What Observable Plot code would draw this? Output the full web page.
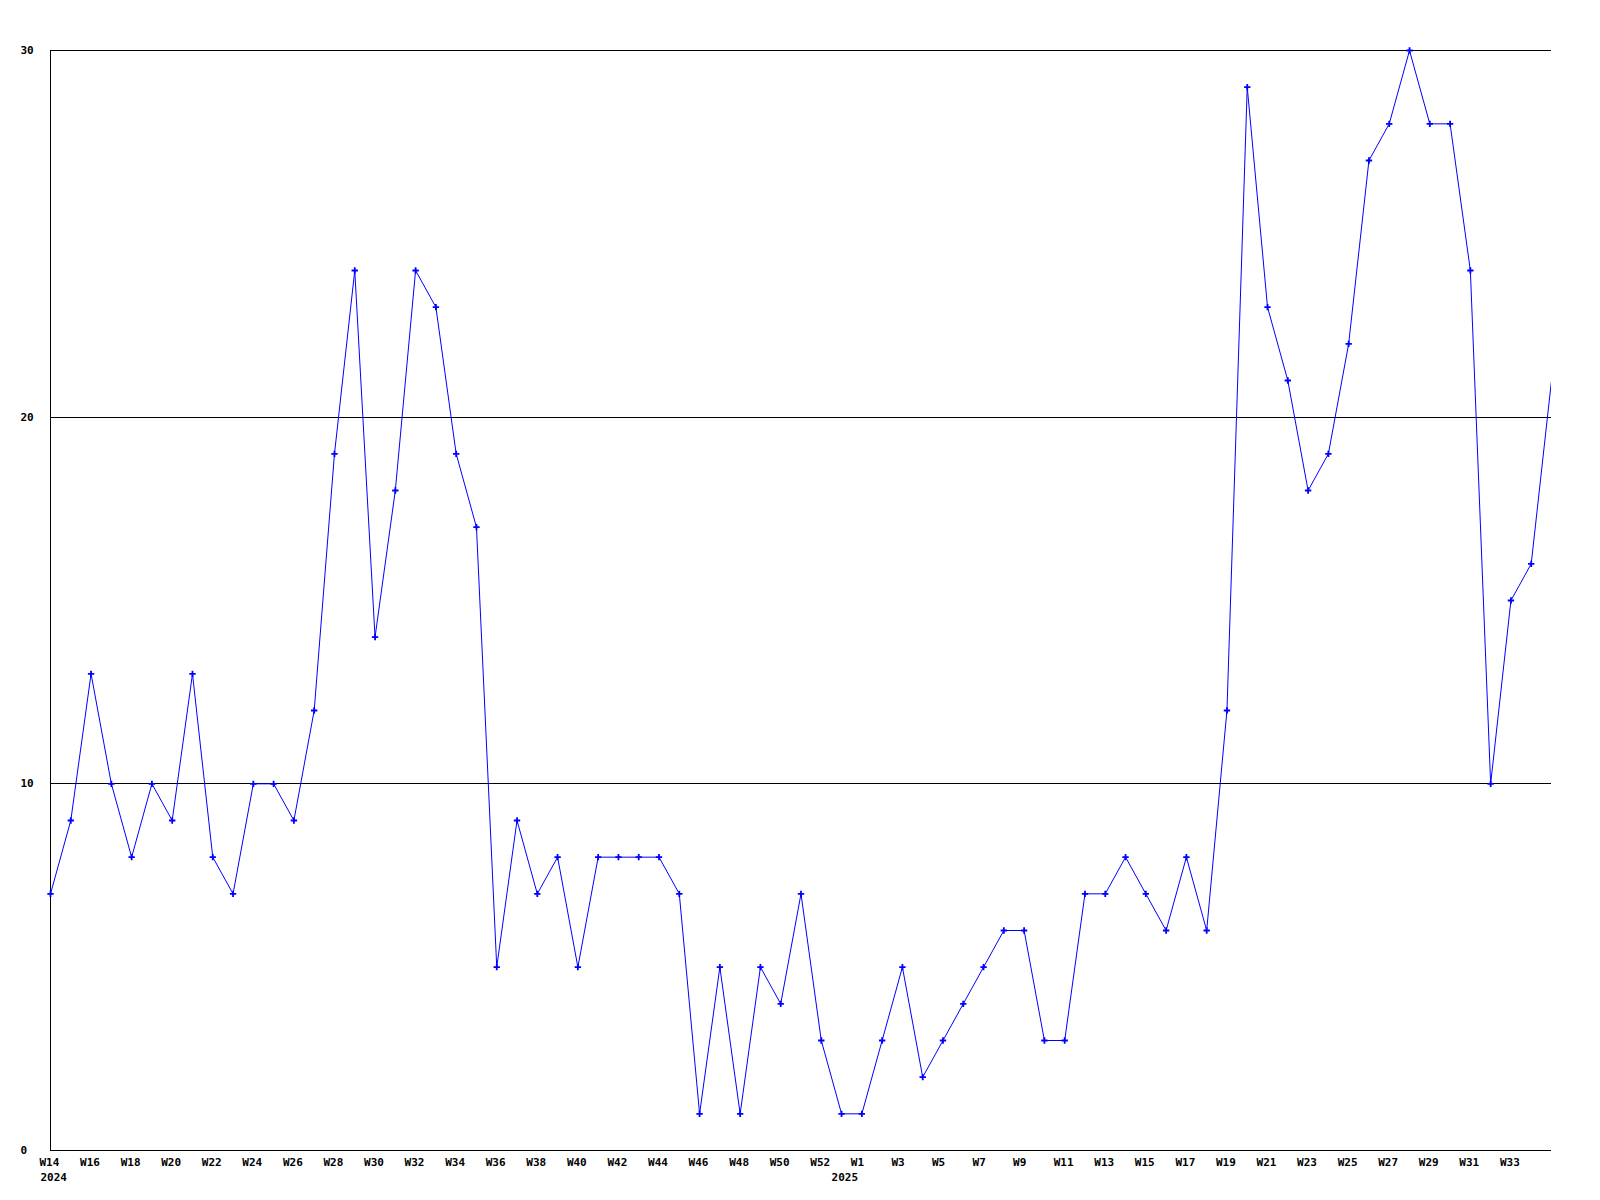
<!DOCTYPE html>
<html>
<head>
<meta charset="utf-8">
<script src="https://cdn.jsdelivr.net/npm/d3@7"></script>
<script src="https://cdn.jsdelivr.net/npm/@observablehq/plot@0.6"></script>
<style>
  html, body { margin: 0; padding: 0; background: #ffffff; }
  #chart svg { display: block; }
</style>
</head>
<body>
<div id="chart"></div>
<script>
// Week sequence (2024 W14 … 2024 W53, 2025 W1 … 2025 W35)
const weeks = [
  "W14","W15","W16","W17","W18","W19","W20","W21","W22","W23","W24","W25","W26","W27",
  "W28","W29","W30","W31","W32","W33","W34","W35","W36","W37","W38","W39","W40","W41",
  "W42","W43","W44","W45","W46","W47","W48","W49","W50","W51","W52","W53",
  "W1","W2","W3","W4","W5","W6","W7","W8","W9","W10","W11","W12","W13","W14","W15",
  "W16","W17","W18","W19","W20","W21","W22","W23","W24","W25","W26","W27","W28","W29",
  "W30","W31","W32","W33","W34","W35"
];
const values = [
  7, 9, 13, 10, 8, 10, 9, 13, 8, 7, 10, 10, 9, 12,
  19, 24, 14, 18, 24, 23, 19, 17, 5, 9, 7, 8, 5, 8,
  8, 8, 8, 7, 1, 5, 1, 5, 4, 7, 3, 1,
  1, 3, 5, 2, 3, 4, 5, 6, 6, 3, 3, 7, 7, 8, 7,
  6, 8, 6, 12, 29, 23, 21, 18, 19, 22, 27, 28, 30, 28,
  28, 24, 10, 15, 16, 21
];
// Tick labels (every second week) and year labels
const xTickLabels = ["W14","W16","W18","W20","W22","W24","W26","W28","W30","W32","W34","W36","W38",
  "W40","W42","W44","W46","W48","W50","W52","W1","W3","W5","W7","W9","W11","W13","W15","W17",
  "W19","W21","W23","W25","W27","W29","W31","W33"];
const xTickIdx = [0,2,4,6,8,10,12,14,16,18,20,22,24,26,28,30,32,34,36,38,40,42,44,46,48,50,52,54,56,58,60,62,64,66,68,70,72];
const yearLabels = ["2024", "2025"];
const yearIdx = [0, 39];
const yTicks = [0, 10, 20, 30];
const yGrid = [10, 20, 30];

const data = values.map((v, i) => ({i, v, week: weeks[i]}));
const xTicks = xTickLabels.map((label, k) => ({i: xTickIdx[k], label}));
const yearsData = yearLabels.map((label, k) => ({i: yearIdx[k], label}));
const lastIdx = weeks.length - 1;

const font = "'DejaVu Sans Mono', 'Liberation Mono', monospace";

const chart = Plot.plot({
  width: 1600,
  height: 1200,
  marginLeft: 50,
  marginRight: 49,
  marginTop: 50,
  marginBottom: 50,
  x: {type: "linear", domain: [0, lastIdx], axis: null},
  y: {type: "linear", domain: [0, 30], axis: null},
  style: {background: "#ffffff", fontFamily: font},
  marks: [
    Plot.ruleY(yGrid, {stroke: "#000000", strokeWidth: 1, shapeRendering: "crispEdges"}),
    Plot.ruleY([0], {stroke: "#000000", strokeWidth: 1, shapeRendering: "crispEdges"}),
    Plot.ruleX([0], {stroke: "#000000", strokeWidth: 1, shapeRendering: "crispEdges"}),
    Plot.line(data, {x: "i", y: "v", stroke: "#0000ff", strokeWidth: 1, clip: true}),
    Plot.dot(data.filter(d => d.i < lastIdx), {x: "i", y: "v", symbol: "plus", r: 2.2, stroke: "#0000ff", strokeWidth: 1.8}),
    Plot.text(xTicks, {x: "i", y: () => 0, text: "label", textAnchor: "start", dx: -11, dy: 12,
      fontSize: 11, fontWeight: "bold", fill: "#000000", fontFamily: font}),
    Plot.text(yearsData, {x: "i", y: () => 0, text: "label", textAnchor: "start", dx: -10, dy: 27,
      fontSize: 11, fontWeight: "bold", fill: "#000000", fontFamily: font}),
    Plot.text(yTicks, {x: () => 0, y: d => d, text: d => String(d), textAnchor: "start", dx: -30,
      fontSize: 11, fontWeight: "bold", fill: "#000000", fontFamily: font})
  ]
});
document.getElementById("chart").appendChild(chart);
</script>
</body>
</html>
